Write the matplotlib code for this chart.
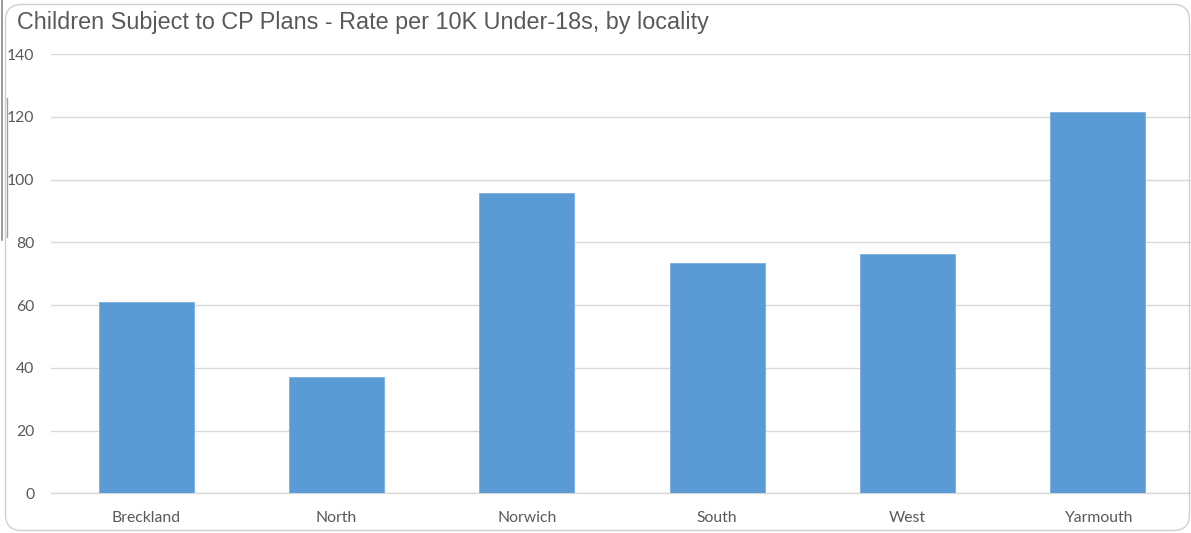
import matplotlib
matplotlib.use("Agg")
import matplotlib.pyplot as plt
from matplotlib.patches import FancyBboxPatch
from matplotlib.lines import Line2D

localities = ["Breckland", "North", "Norwich", "South", "West", "Yarmouth"]
rates = [60.9, 37.0, 95.8, 73.3, 76.3, 121.5]
y_ticks = [0, 20, 40, 60, 80, 100, 120, 140]

W, H = 1191, 533
DPI = 100
fig = plt.figure(figsize=(W / DPI, H / DPI), dpi=DPI)
fig.patch.set_facecolor("white")

# rounded chart frame (inch coordinates, origin bottom-left)
frame = FancyBboxPatch((5.5 / DPI, 2.5 / DPI), 1184 / DPI, 526 / DPI,
                       boxstyle="round,pad=0,rounding_size=0.16",
                       transform=fig.dpi_scale_trans, facecolor="none",
                       edgecolor="#d0d0d0", linewidth=1.0, zorder=5)
fig.patches.append(frame)

# window edge marks on the far left
fig.lines.append(Line2D([1.5 / W, 1.5 / W], [1 - 0 / H, 1 - 240 / H],
                        transform=fig.transFigure, color="#8a8a8a", lw=1.2))
fig.lines.append(Line2D([7 / W, 7 / W], [1 - 98 / H, 1 - 237 / H],
                        transform=fig.transFigure, color="#a0a0a0", lw=1.0))

left, bottom = 51 / W, (H - 493.3) / H
top = (H - 54.0) / H
ax = fig.add_axes([left, bottom, 1142 / W, top - bottom])
ax.patch.set_alpha(0)

x = list(range(len(localities)))
ax.bar(x, rates, width=0.5, color="#5b9bd5", edgecolor="#7aaee0",
       linewidth=0.6, zorder=3)

ax.set_xlim(-0.5, len(localities) - 0.5)
ax.set_ylim(0, 140)
ax.set_yticks(y_ticks)
ax.set_yticklabels([str(v) for v in y_ticks])
ax.set_xticks(x)
ax.set_xticklabels(localities)
ax.grid(axis="y", color="#d9d9d9", linewidth=1.0, zorder=0)
ax.set_axisbelow(True)
for s in ["top", "right", "left"]:
    ax.spines[s].set_visible(False)
ax.spines["bottom"].set_color("#d9d9d9")
ax.spines["bottom"].set_linewidth(1.0)
ax.tick_params(axis="both", length=0, colors="#595959", labelsize=11.3)
ax.tick_params(axis="y", pad=12)
ax.tick_params(axis="x", pad=12.5)
for lbl in ax.get_xticklabels() + ax.get_yticklabels():
    lbl.set_fontfamily("Lato")

fig.text(17 / W, (H - 29) / H,
         "Children Subject to CP Plans - Rate per 10K Under-18s, by locality",
         fontsize=16.8, color="#595959", family="Liberation Sans",
         ha="left", va="baseline")

fig.savefig("out.png", dpi=DPI, facecolor="white")
